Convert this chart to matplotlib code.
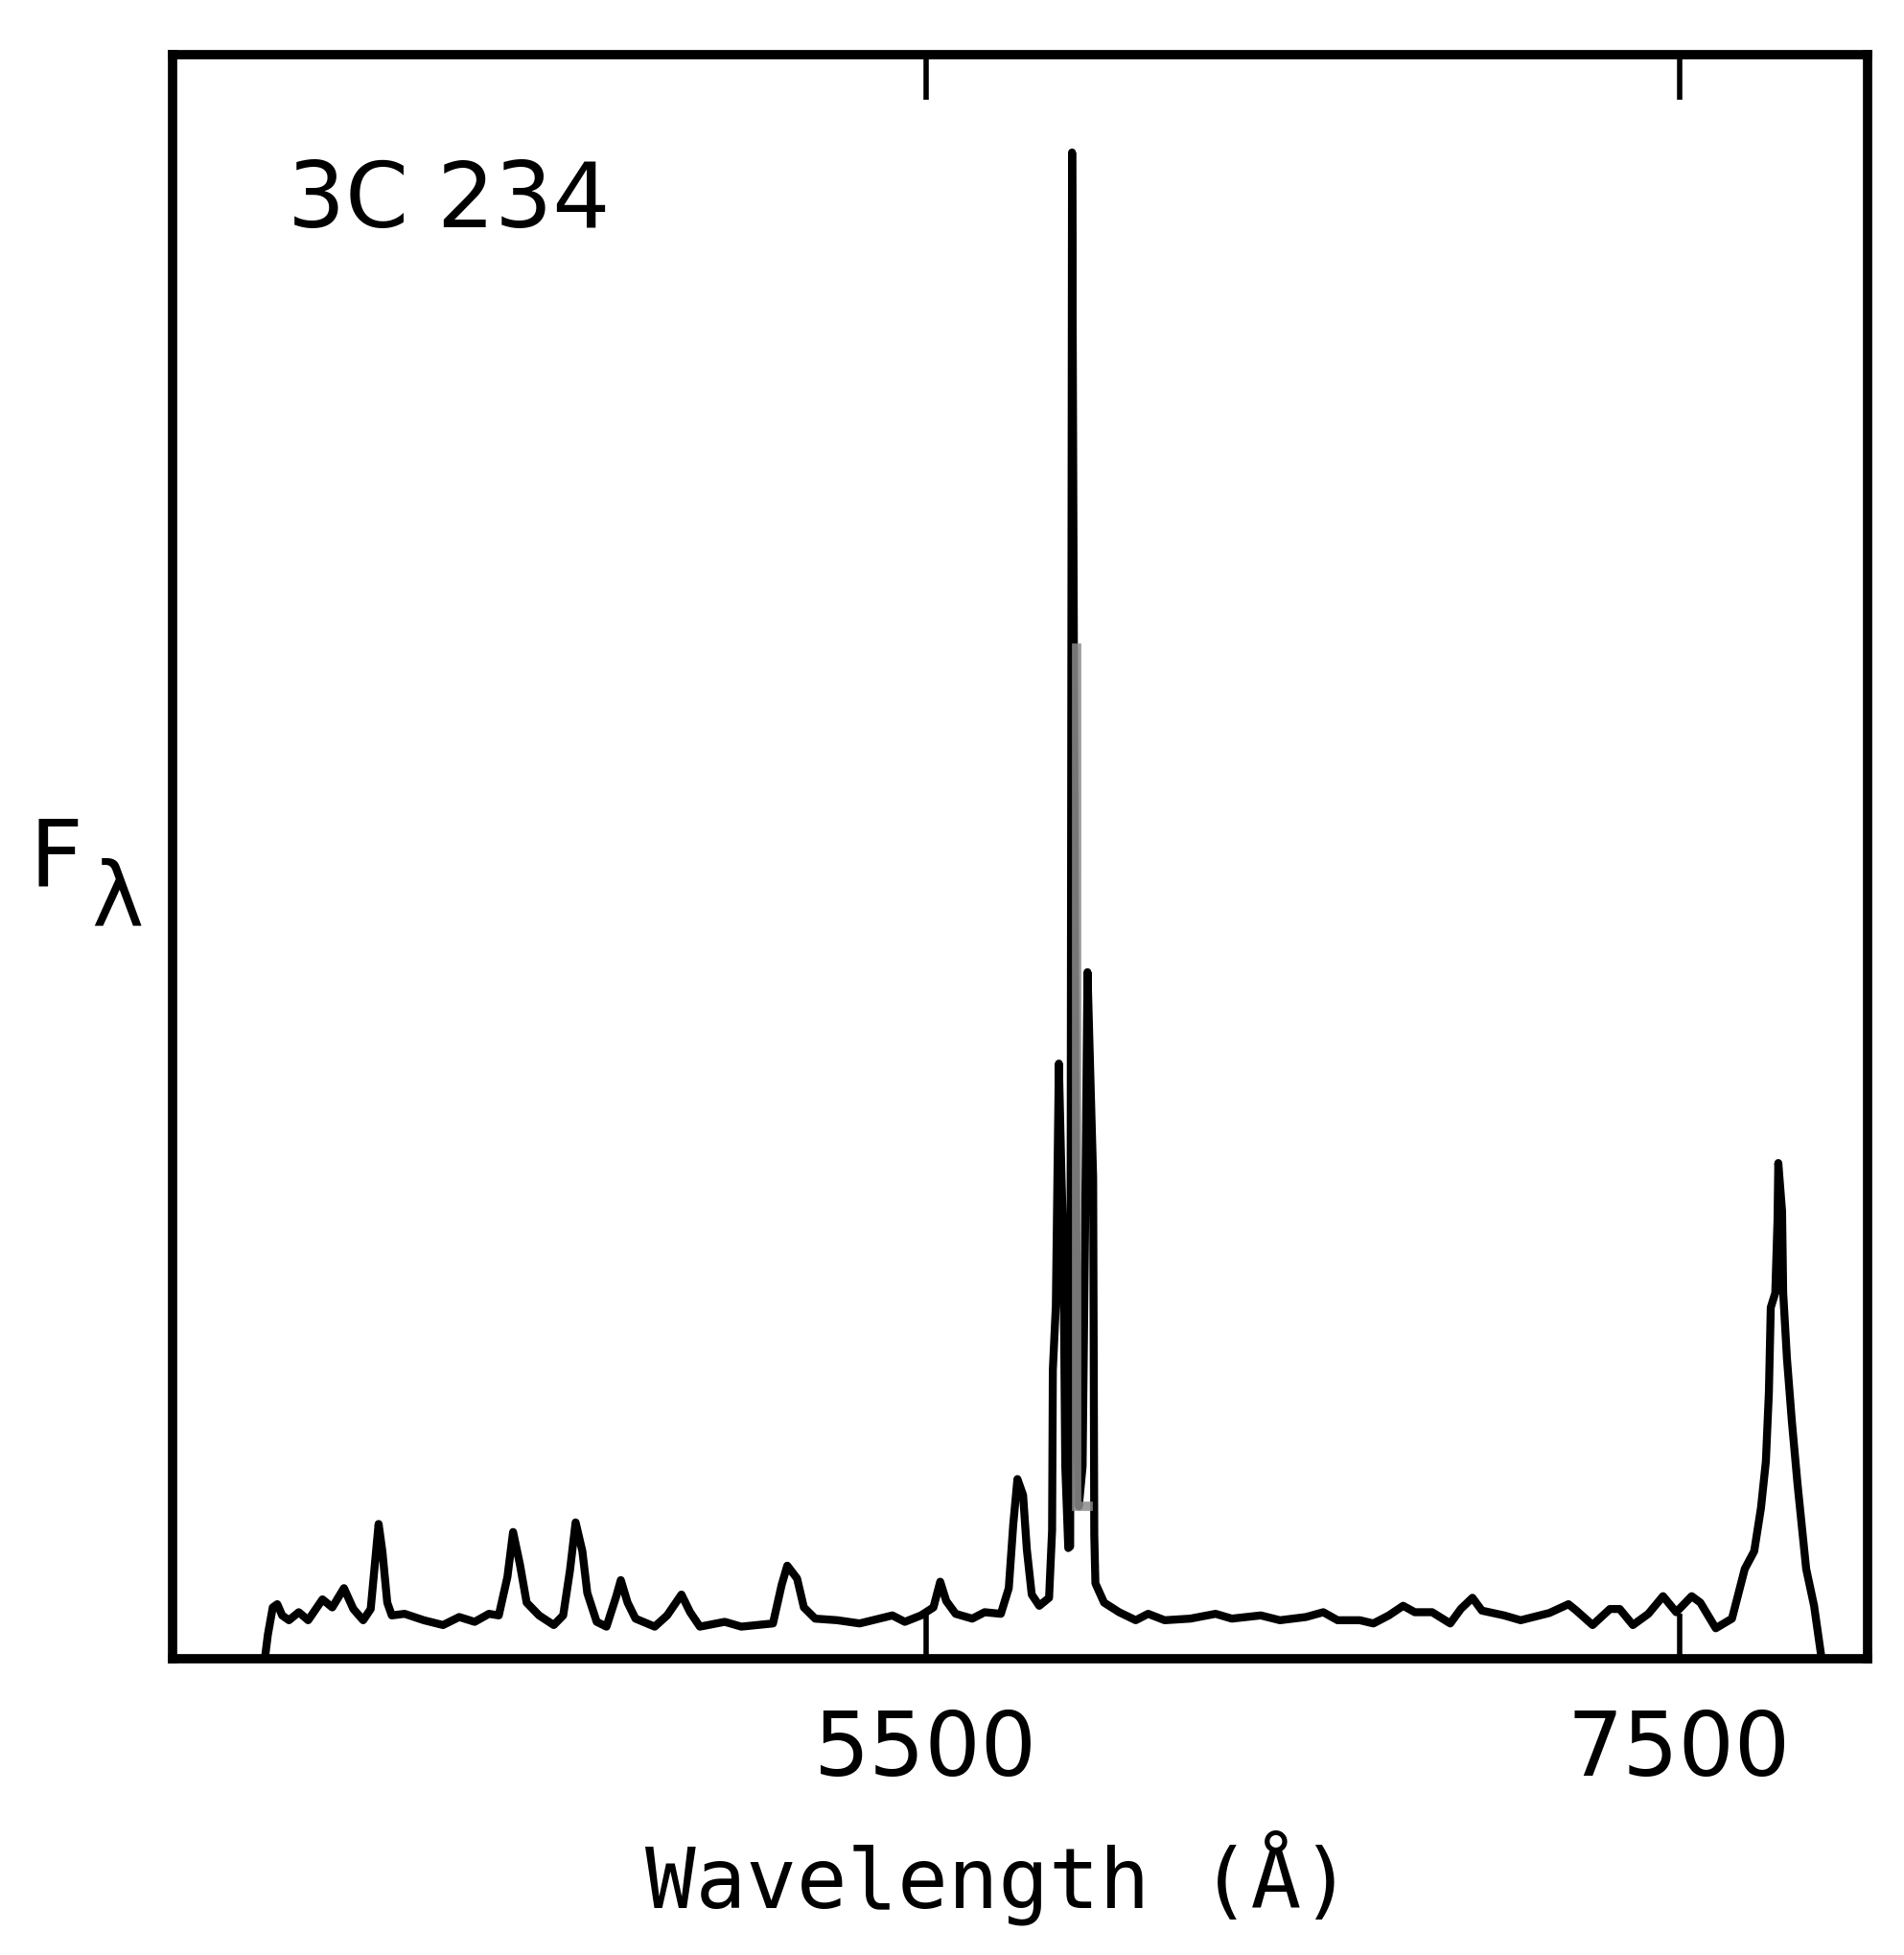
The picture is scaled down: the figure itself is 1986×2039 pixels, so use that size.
import matplotlib
matplotlib.use("Agg")
import matplotlib.pyplot as plt

plt.rcParams['font.family'] = ['DejaVu Sans']

# ---- data ----
object_name = "3C 234"
x_label = "Wavelength (\u00c5)"
y_label_main = "F"
y_label_sub = "\u03bb"
tick_values = [5500, 7500]
tick_labels = ["5500", "7500"]

wavelength = [
    3745, 3753, 3766, 3778, 3791, 3809, 3835, 3860, 3898, 3924,
    3955, 3980, 4006, 4026, 4034, 4047, 4057, 4070, 4082, 4116,
    4167, 4218, 4261, 4302, 4340, 4366, 4389, 4404, 4422, 4440,
    4473, 4512, 4537, 4555, 4570, 4588, 4601, 4626, 4652, 4678,
    4690, 4708, 4729, 4780, 4813, 4851, 4874, 4900, 4966, 5010,
    5094, 5117, 5132, 5158, 5176, 5206, 5265, 5324, 5411, 5444,
    5487, 5520, 5538, 5554, 5579, 5623, 5656, 5699, 5720, 5732,
    5743, 5758, 5768, 5781, 5801, 5827, 5835, 5837, 5845, 5853,
    5860, 5865, 5870, 5878, 5883, 5888, 5898, 5906, 5916, 5924,
    5929, 5944, 5947, 5950, 5973, 6013, 6057, 6090, 6134, 6202,
    6269, 6312, 6389, 6440, 6509, 6555, 6593, 6652, 6688, 6729,
    6767, 6798, 6844, 6892, 6920, 6951, 6976, 7035, 7079, 7155,
    7206, 7227, 7270, 7316, 7342, 7377, 7418, 7457, 7492, 7533,
    7556, 7597, 7640, 7674, 7699, 7717, 7730, 7738, 7743, 7755,
    7761, 7763, 7773, 7776, 7786, 7799, 7814, 7837, 7858, 7878,
]
flux = [
    0.0, 1.5, 3.2, 3.4, 2.7, 2.4, 2.9, 2.4, 3.7, 3.2,
    4.4, 3.1, 2.4, 3.1, 5.1, 8.4, 6.7, 3.5, 2.7, 2.8,
    2.4, 2.1, 2.6, 2.3, 2.8, 2.7, 5.1, 7.9, 5.9, 3.5,
    2.7, 2.1, 2.7, 5.5, 8.5, 6.7, 4.1, 2.3, 2.0, 3.9,
    4.9, 3.5, 2.5, 2.0, 2.7, 4.0, 2.9, 2.0, 2.3, 2.0,
    2.2, 4.6, 5.8, 5.0, 3.2, 2.5, 2.4, 2.2, 2.7, 2.3,
    2.7, 3.2, 4.8, 3.6, 2.8, 2.5, 2.9, 2.8, 4.4, 8.4,
    11.2, 10.2, 6.8, 4.0, 3.3, 3.8, 8.0, 18.0, 22.0, 37.1,
    30.0, 26.0, 12.0, 6.9, 7.0, 93.9, 30.0, 9.5, 12.0, 30.0,
    42.8, 30.0, 7.7, 4.7, 3.5, 2.9, 2.4, 2.8, 2.4, 2.5,
    2.8, 2.5, 2.7, 2.4, 2.6, 2.9, 2.4, 2.4, 2.2, 2.7,
    3.3, 2.9, 2.9, 2.2, 3.1, 3.8, 3.0, 2.7, 2.4, 2.85,
    3.4, 3.0, 2.1, 3.1, 3.1, 2.1, 2.8, 3.9, 2.9, 3.9,
    3.5, 1.9, 2.5, 5.6, 6.7, 9.4, 12.3, 16.6, 21.9, 22.8,
    27.4, 30.9, 27.9, 22.8, 18.7, 14.8, 10.9, 5.6, 3.3, 0.0,
]

# faint grey pen trace inside the [OIII] complex
ghost_wavelength = [5900, 5900, 5930]
ghost_flux = [63.0, 9.5, 9.5]

# ---- figure ----
fig = plt.figure(figsize=(19.86, 20.40), dpi=100)
ax = fig.add_axes([180 / 1986, 1 - 1731 / 2040, 1768 / 1986, (1731 - 58) / 2040])

ax.plot(wavelength, flux, color='black', lw=6, solid_joinstyle='round',
        solid_capstyle='round', zorder=3)
ax.plot(ghost_wavelength, ghost_flux, color='#8c8c8c', lw=7, alpha=0.85,
        solid_joinstyle='miter', zorder=4)

ax.set_xlim(3500, 8000)
ax.set_ylim(0, 100)
for s in ax.spines.values():
    s.set_linewidth(7)
ax.set_yticks([])
ax.set_xticks(tick_values)
ax.set_xticklabels(tick_labels)
ax.tick_params(axis='x', direction='in', length=34, width=4, top=True,
               labeltop=False, labelsize=66, pad=36)

ax.text(0.068, 0.893, object_name, transform=ax.transAxes, fontsize=68,
        ha='left', va='baseline')

fig.text(1041 / 1986, 1 - 1958 / 2040, x_label, fontsize=63,
         family='DejaVu Sans Mono', ha='center', va='center')
fig.text(30 / 1986, 1 - 925 / 2040, y_label_main, fontsize=70,
         ha='left', va='baseline')
fig.text(95 / 1986, 1 - 965 / 2040, y_label_sub, fontsize=66,
         ha='left', va='baseline')

fig.savefig("out.png", dpi=100, facecolor='white')
